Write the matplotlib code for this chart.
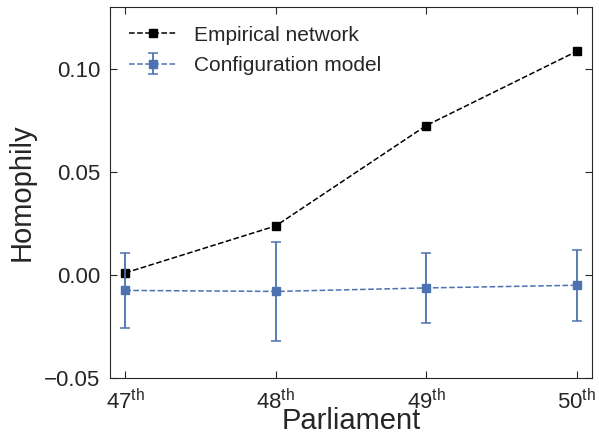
import matplotlib
matplotlib.use("Agg")
import matplotlib.pyplot as plt
import seaborn as sns

# Homofilia por legislatura: red empírica vs. modelo de configuración
parlamentos = [47, 48, 49, 50]
etiquetas = ["47$^{\\mathrm{th}}$", "48$^{\\mathrm{th}}$", "49$^{\\mathrm{th}}$", "50$^{\\mathrm{th}}$"]
empirica = [0.0010, 0.0238, 0.0725, 0.1085]
config_media = [-0.0075, -0.0080, -0.0063, -0.0050]
config_err = [0.0180, 0.0240, 0.0170, 0.0172]

sns.set_style("ticks", {"xtick.direction": "in", "ytick.direction": "in"})
plt.rcParams["font.family"] = ["Liberation Sans", "DejaVu Sans"]
plt.rcParams["mathtext.fontset"] = "custom"
plt.rcParams["mathtext.rm"] = "Liberation Sans"

fig, ax = plt.subplots(figsize=(5.99, 4.37), dpi=100)

ax.plot(parlamentos, empirica, ls="--", color="black", marker="s", ms=6,
        lw=1.1, label="Empirical network")
ax.errorbar(parlamentos, config_media, yerr=config_err, ls="--", color="#4C72B0",
            marker="s", ms=6, lw=1.1, ecolor="#4C72B0", elinewidth=1.3,
            capsize=3.5, capthick=1.1, label="Configuration model")

ax.set_xlim(46.9, 50.1)
ax.set_ylim(-0.05, 0.13)
ax.set_xticks(parlamentos)
ax.set_xticklabels(etiquetas)
ax.set_yticks([-0.05, 0.0, 0.05, 0.10])
ax.set_yticklabels(["\u22120.05", "0.00", "0.05", "0.10"])
ax.tick_params(top=True, right=True, direction="in", length=5, labelsize=16,
               colors=".15")
ax.tick_params(axis="y", pad=7)
ax.tick_params(axis="x", pad=8)
ax.set_xlabel("Parliament", fontsize=21, color=".15", labelpad=-5)
ax.set_ylabel("Homophily", fontsize=21, color=".15", labelpad=6)
ax.legend(loc="upper left", frameon=False, fontsize=15, numpoints=1,
          handlelength=2.3, handletextpad=0.8, labelspacing=0.55,
          borderaxespad=0.5)

plt.subplots_adjust(left=0.184, right=0.988, top=0.984, bottom=0.135)
plt.savefig("out.png", dpi=100)
